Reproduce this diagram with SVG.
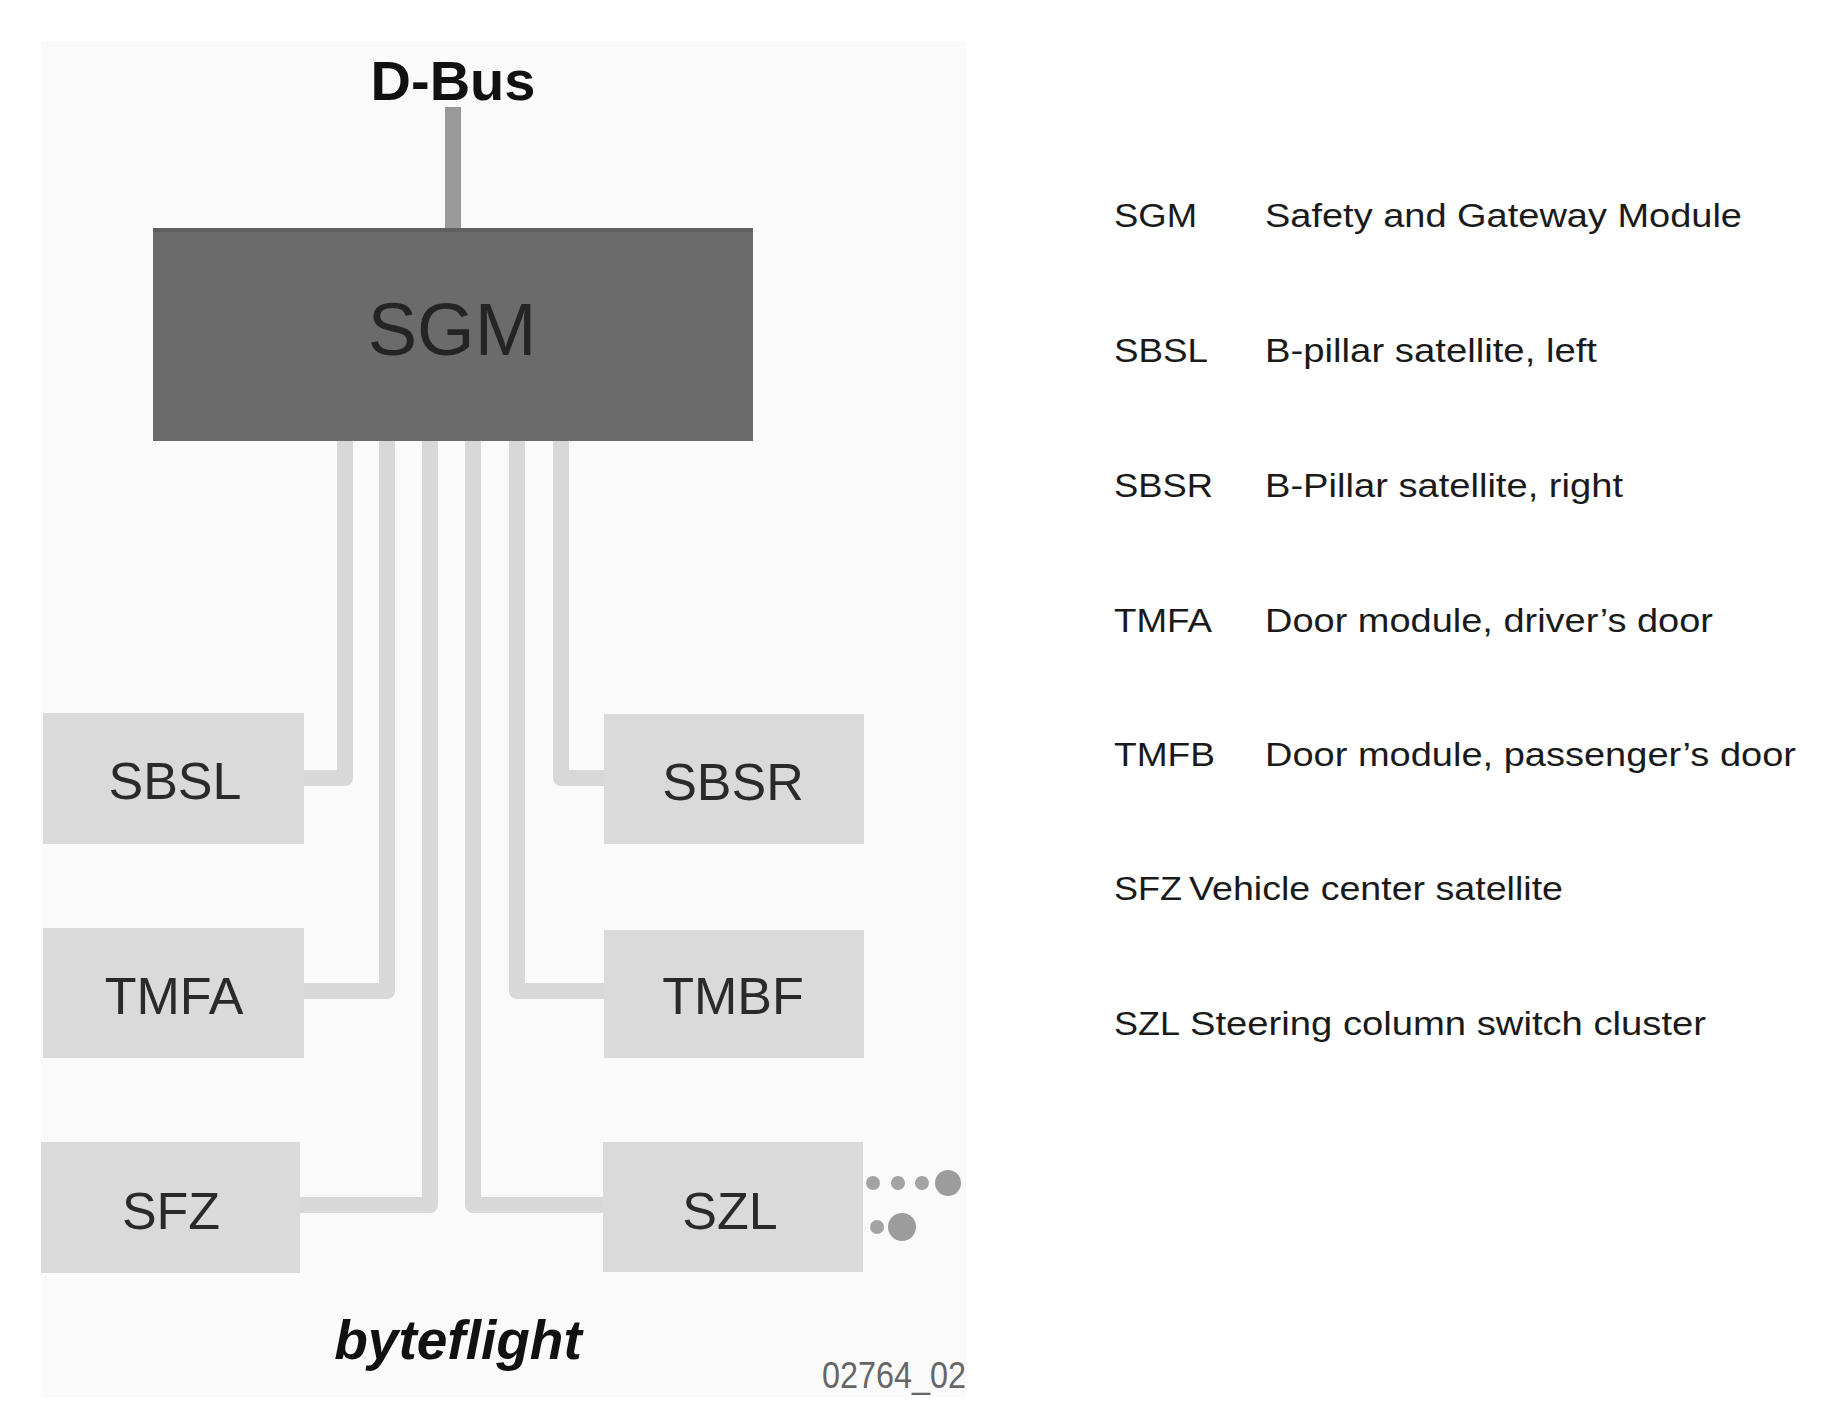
<svg xmlns="http://www.w3.org/2000/svg" width="1848" height="1417" viewBox="0 0 1848 1417">
<style>
.lbl{font-family:"Liberation Sans",Arial,sans-serif;font-size:52px;fill:#2a2a2a;text-anchor:middle}
.box{fill:#dadada}
.leg{font-family:"Liberation Sans",Arial,sans-serif;font-size:33px;fill:#1a1a1a}
.wire{fill:none;stroke:#d8d8d8;stroke-width:16;stroke-linejoin:round}
.dot{fill:#a3a3a3}
</style>
<rect x="0" y="0" width="1848" height="1417" fill="#ffffff"/>
<rect x="41" y="41" width="925" height="1356" fill="#fafafa"/>
<g id="connectors">
<path class="wire" d="M345 441 V778 H300"/>
<path class="wire" d="M387 441 V991 H300"/>
<path class="wire" d="M430 441 V1205 H296"/>
<path class="wire" d="M473 441 V1205 H607"/>
<path class="wire" d="M517 441 V991 H607"/>
<path class="wire" d="M561 441 V778 H607"/>
<path d="M453 107 V230" fill="none" stroke="#9a9a9a" stroke-width="16"/>
</g>
<g id="dbus">
<text x="453" y="100" font-family="'Liberation Sans',Arial,sans-serif" font-size="56" font-weight="bold" fill="#111" text-anchor="middle">D-Bus</text>
</g>
<g id="SGM">
<rect x="153" y="228" width="600" height="213" fill="#6b6b6b"/>
<rect x="153" y="228" width="600" height="4" fill="#5f5f5f"/>
<text x="452" y="355" font-family="'Liberation Sans',Arial,sans-serif" font-size="74" fill="#242424" text-anchor="middle">SGM</text>
</g>
<g id="SBSL"><rect class="box" x="43" y="713" width="261" height="131"/><text class="lbl" x="175" y="799">SBSL</text></g>
<g id="SBSR"><rect class="box" x="604" y="714" width="260" height="130"/><text class="lbl" x="733" y="800">SBSR</text></g>
<g id="TMFA"><rect class="box" x="43" y="928" width="261" height="130"/><text class="lbl" x="174" y="1014">TMFA</text></g>
<g id="TMBF"><rect class="box" x="604" y="930" width="260" height="128"/><text class="lbl" x="733" y="1014">TMBF</text></g>
<g id="SFZ"><rect class="box" x="41" y="1142" width="259" height="131"/><text class="lbl" x="171" y="1229">SFZ</text></g>
<g id="SZL"><rect class="box" x="603" y="1142" width="260" height="130"/><text class="lbl" x="730" y="1229">SZL</text></g>
<g id="dots">
<circle class="dot" cx="873" cy="1183" r="7"/>
<circle class="dot" cx="898" cy="1183" r="7"/>
<circle class="dot" cx="922" cy="1183" r="7"/>
<circle cx="948" cy="1183" r="13" fill="#9c9c9c"/>
<circle class="dot" cx="877" cy="1227" r="7"/>
<circle cx="902" cy="1227" r="14" fill="#9c9c9c"/>
</g>
<g id="caption">
<text x="458" y="1359" font-family="'Liberation Sans',Arial,sans-serif" font-size="55" font-weight="bold" font-style="italic" fill="#111" text-anchor="middle">byteflight</text>
<text x="822" y="1388" font-family="'Liberation Sans',Arial,sans-serif" font-size="36" fill="#666" textLength="144" lengthAdjust="spacingAndGlyphs">02764_02</text>
</g>
<g id="legend">
<text class="leg" x="1114" y="227" textLength="83" lengthAdjust="spacingAndGlyphs">SGM</text>
<text class="leg" x="1265" y="227" textLength="477" lengthAdjust="spacingAndGlyphs">Safety and Gateway Module</text>
<text class="leg" x="1114" y="362" textLength="94" lengthAdjust="spacingAndGlyphs">SBSL</text>
<text class="leg" x="1265" y="362" textLength="332" lengthAdjust="spacingAndGlyphs">B-pillar satellite, left</text>
<text class="leg" x="1114" y="497" textLength="99" lengthAdjust="spacingAndGlyphs">SBSR</text>
<text class="leg" x="1265" y="497" textLength="358" lengthAdjust="spacingAndGlyphs">B-Pillar satellite, right</text>
<text class="leg" x="1114" y="632" textLength="98" lengthAdjust="spacingAndGlyphs">TMFA</text>
<text class="leg" x="1265" y="632" textLength="448" lengthAdjust="spacingAndGlyphs">Door module, driver’s door</text>
<text class="leg" x="1114" y="766" textLength="101" lengthAdjust="spacingAndGlyphs">TMFB</text>
<text class="leg" x="1265" y="766" textLength="531" lengthAdjust="spacingAndGlyphs">Door module, passenger’s door</text>
<text class="leg" x="1114" y="900" textLength="68" lengthAdjust="spacingAndGlyphs">SFZ</text>
<text class="leg" x="1189" y="900" textLength="374" lengthAdjust="spacingAndGlyphs">Vehicle center satellite</text>
<text class="leg" x="1114" y="1035" textLength="66" lengthAdjust="spacingAndGlyphs">SZL</text>
<text class="leg" x="1190" y="1035" textLength="516" lengthAdjust="spacingAndGlyphs">Steering column switch cluster</text>
</g>
</svg>
